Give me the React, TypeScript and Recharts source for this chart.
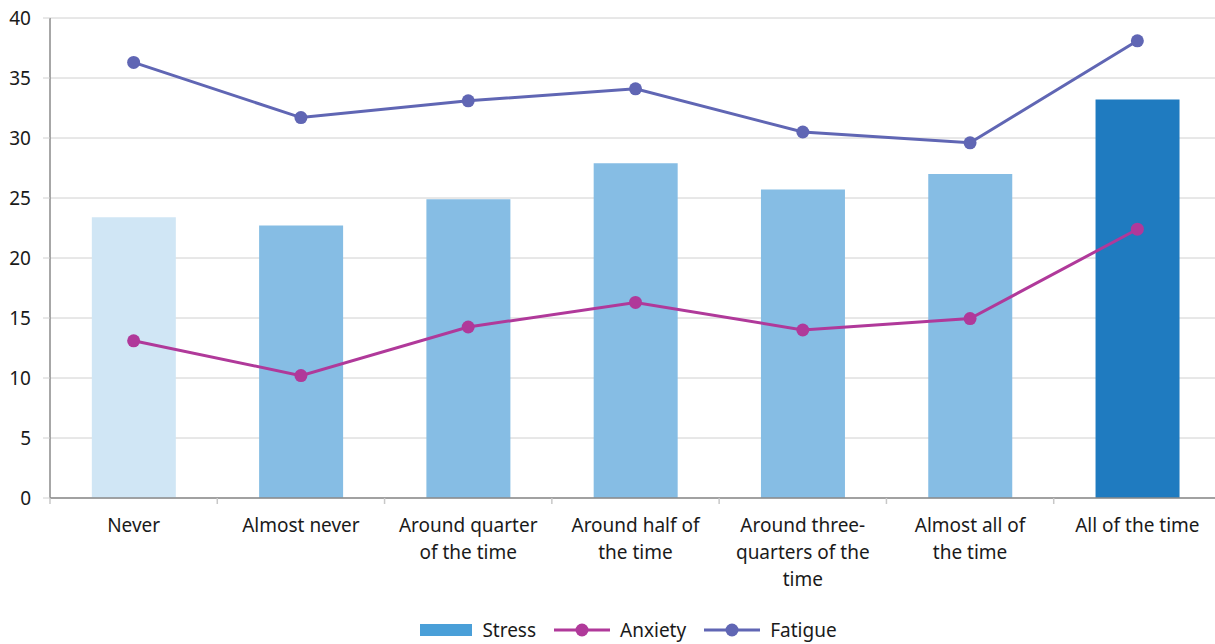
import { ComposedChart, Bar, Line, XAxis, YAxis, CartesianGrid, Legend, Cell } from 'recharts'

const categories = [
  'Never',
  'Almost never',
  'Around quarter of the time',
  'Around half of the time',
  'Around three-quarters of the time',
  'Almost all of the time',
  'All of the time',
]

// wrapped tick labels as they appear under the axis
const tickLines: Record<string, string[]> = {
  'Never': ['Never'],
  'Almost never': ['Almost never'],
  'Around quarter of the time': ['Around quarter', 'of the time'],
  'Around half of the time': ['Around half of', 'the time'],
  'Around three-quarters of the time': ['Around three-', 'quarters of the', 'time'],
  'Almost all of the time': ['Almost all of', 'the time'],
  'All of the time': ['All of the time'],
}

const stress = [23.4, 22.7, 24.9, 27.9, 25.7, 27.0, 33.2]
const anxiety = [13.1, 10.2, 14.25, 16.3, 14.0, 14.95, 22.4]
const fatigue = [36.3, 31.7, 33.1, 34.1, 30.5, 29.6, 38.1]

const yTicks = [0, 5, 10, 15, 20, 25, 30, 35, 40]

const barColors = ['#d0e6f5', '#86bde4', '#86bde4', '#86bde4', '#86bde4', '#86bde4', '#1f7bc0']

const data = categories.map((c, i) => ({
  category: c,
  Stress: stress[i],
  Anxiety: anxiety[i],
  Fatigue: fatigue[i],
}))

const FONT = '"Source Sans Pro", "Noto Sans", sans-serif'

const XTick = (props: any) => {
  const { x, y, payload, index, width } = props
  const band = width / categories.length
  const lines = tickLines[payload.value] || [payload.value]
  return (
    <g transform={`translate(${x},${y})`}>
      {/* tick marks sit on the category boundaries */}
      <line x1={-band / 2} y1={-8} x2={-band / 2} y2={-2} stroke="#c8c8c8" strokeWidth={1.5} />
      {index === categories.length - 1 && (
        <line x1={band / 2} y1={-8} x2={band / 2} y2={-2} stroke="#c8c8c8" strokeWidth={1.5} />
      )}
      {lines.map((l, i) => (
        <text key={i} x={0} y={26 + i * 27} textAnchor="middle" fill="#1a1a1a" fontSize={19} fontFamily={FONT}>
          {l}
        </text>
      ))}
    </g>
  )
}

const LegendContent = () => (
  <div style={{ display: 'flex', justifyContent: 'center', alignItems: 'center', fontFamily: FONT, fontSize: 19, color: '#1a1a1a', paddingLeft: 36 }}>
    <svg width={52} height={14} style={{ marginRight: 10 }}>
      <rect x={0} y={1} width={52} height={12} fill="#4a9fd8" />
    </svg>
    <span style={{ marginRight: 18 }}>Stress</span>
    <svg width={56} height={16} style={{ marginRight: 10 }}>
      <line x1={0} y1={8} x2={56} y2={8} stroke="#b0399a" strokeWidth={3} />
      <circle cx={28} cy={8} r={6.5} fill="#b0399a" />
    </svg>
    <span style={{ marginRight: 18 }}>Anxiety</span>
    <svg width={56} height={16} style={{ marginRight: 10 }}>
      <line x1={0} y1={8} x2={56} y2={8} stroke="#6066b4" strokeWidth={3} />
      <circle cx={28} cy={8} r={6.5} fill="#6066b4" />
    </svg>
    <span>Fatigue</span>
  </div>
)

export default function App() {
  return (
    <div style={{ position: 'absolute', left: 0, top: 0, background: '#fff', width: 1215, height: 644, overflow: 'hidden' }}>
      <ComposedChart
        width={1215}
        height={644}
        data={data}
        margin={{ top: 18, right: -6, bottom: 0, left: 0 }}
        barCategoryGap="25%"
      >
        <CartesianGrid vertical={false} stroke="#d0d0d0" strokeWidth={1} />
        <XAxis
          dataKey="category"
          tick={<XTick />}
          tickLine={false}
          axisLine={{ stroke: '#8a8a8a', strokeWidth: 1.5 }}
          interval={0}
          height={104}
        />
        <YAxis
          domain={[0, 40]}
          ticks={yTicks}
          width={50}
          tick={{ fill: '#1a1a1a', fontSize: 19, fontFamily: FONT, dx: -10 }}
          tickLine={{ stroke: '#d0d0d0' }}
          tickSize={7}
          axisLine={{ stroke: '#8a8a8a', strokeWidth: 1.5 }}
        />
        <Bar dataKey="Stress" isAnimationActive={false}>
          {barColors.map((c, i) => (
            <Cell key={i} fill={c} />
          ))}
        </Bar>
        <Line
          dataKey="Anxiety"
          stroke="#b0399a"
          strokeWidth={3}
          dot={{ r: 6.5, fill: '#b0399a', stroke: '#b0399a', strokeWidth: 0 }}
          isAnimationActive={false}
        />
        <Line
          dataKey="Fatigue"
          stroke="#6066b4"
          strokeWidth={3}
          dot={{ r: 6.5, fill: '#6066b4', stroke: '#6066b4', strokeWidth: 0 }}
          isAnimationActive={false}
        />
        <Legend content={<LegendContent />} verticalAlign="bottom" height={42} wrapperStyle={{ top: 617 }} />
      </ComposedChart>
    </div>
  )
}
